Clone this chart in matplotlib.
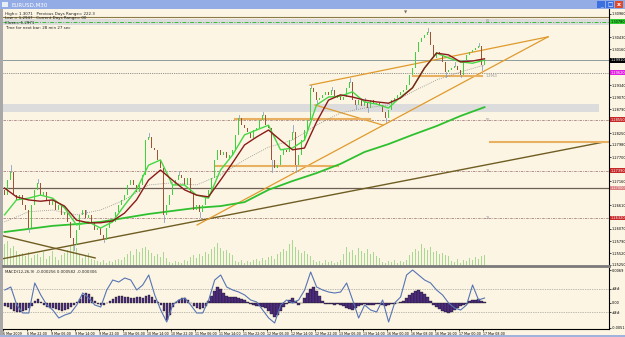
import numpy as np
import matplotlib
matplotlib.use("Agg")
import matplotlib.pyplot as plt
from matplotlib.patches import Rectangle
from matplotlib.transforms import blended_transform_factory

# EURUSD M30 screenshot - one candle here = one hour (two M30 bars)
closes = [
    1.2684, 1.2718, 1.2737, 1.2684, 1.2673, 1.2684, 1.2661, 1.2650, 1.2609, 1.2661,
    1.2696, 1.2712, 1.2684, 1.2691, 1.2673, 1.2661, 1.2673, 1.2650, 1.2661, 1.2639,
    1.2646, 1.2623, 1.2586, 1.2570, 1.2605, 1.2639, 1.2650, 1.2632, 1.2639, 1.2623,
    1.2605, 1.2609, 1.2593, 1.2582, 1.2609, 1.2627, 1.2623, 1.2646, 1.2661, 1.2673,
    1.2684, 1.2707, 1.2718, 1.2707, 1.2691, 1.2707, 1.2730, 1.2809, 1.2816, 1.2791,
    1.2787, 1.2764, 1.2746, 1.2639, 1.2661, 1.2684, 1.2707, 1.2718, 1.2730, 1.2723,
    1.2707, 1.2723, 1.2691, 1.2650, 1.2661, 1.2646, 1.2661, 1.2677, 1.2696, 1.2723,
    1.2764, 1.2787, 1.2775, 1.2782, 1.2768, 1.2775, 1.2787, 1.2821, 1.2859, 1.2843,
    1.2837, 1.2827, 1.2814, 1.2832, 1.2837, 1.2855, 1.2866, 1.2843, 1.2837, 1.2764,
    1.2746, 1.2752, 1.2775, 1.2787, 1.2782, 1.2809, 1.2827, 1.2752, 1.2775, 1.2809,
    1.2832, 1.2855, 1.2928, 1.2919, 1.2900, 1.2905, 1.2912, 1.2919, 1.2912, 1.2923,
    1.2905, 1.2912, 1.2900, 1.2907, 1.2928, 1.2941, 1.2900, 1.2889, 1.2900, 1.2887,
    1.2896, 1.2882, 1.2900, 1.2891, 1.2893, 1.2889, 1.2873, 1.2859, 1.2878, 1.2900,
    1.2905, 1.2912, 1.2919, 1.2923, 1.2934, 1.2957, 1.2973, 1.3010, 1.3032, 1.3041,
    1.3048, 1.3055, 1.3025, 1.2996, 1.3010, 1.3003, 1.2987, 1.2964, 1.2969, 1.2973,
    1.2978, 1.2969, 1.2957, 1.2991, 1.3003, 1.3010, 1.3014, 1.3019, 1.3023, 1.2980,
    1.2989,
]
first_open = 1.2696
wick_highs = {2: 1.2752, 11: 1.2721, 27: 1.2641, 48: 1.2825, 58: 1.2739, 78: 1.2866,
              86: 1.2873, 96: 1.2843, 102: 1.2934, 109: 1.2930, 115: 1.2950, 120: 1.2905,
              141: 1.3064, 150: 1.2987, 158: 1.3030}
wick_lows = {8: 1.2600, 23: 1.2559, 33: 1.2577, 53: 1.2623, 65: 1.2634, 89: 1.2737,
             97: 1.2737, 104: 1.2891, 117: 1.2880, 121: 1.2873, 127: 1.2850, 147: 1.2953,
             152: 1.2953, 159: 1.2969}

# tick volume, hundreds
volume = [
    22, 25, 18, 20, 15, 12, 13, 10, 14, 8, 11,
    12, 9, 14, 7, 10, 15, 9, 6, 11, 13, 16, 20,
    23, 18, 12, 8, 10, 13, 7, 6,
    5, 4, 6, 3, 5, 4, 6, 7, 6, 9,
    12, 15, 11, 17, 14, 18, 19, 16, 13,
    10, 12, 9, 14, 8, 4, 3, 5, 4, 3, 6, 5,
    9, 11, 8, 12, 10, 14, 12, 17, 19, 23, 18, 15, 16, 13, 11,
    5, 4, 6, 3, 5, 4, 6, 7, 5, 8, 6, 9, 10, 7,
    12, 14, 17, 15, 22, 26, 19, 16, 13, 15, 12, 10, 6,
    4, 5, 3, 6, 4, 5, 3, 4, 6,
    12, 19, 14, 16, 11, 18, 15, 13, 17, 12, 14, 10, 8,
    4, 3, 5, 4, 6, 3, 5, 4, 6,
    11, 14, 17, 15, 22, 18, 16, 19, 14, 15, 12, 13, 11, 10,
    5, 4, 7, 3, 6, 5, 8, 6, 9, 7, 10, 11,
]

# moving averages (fast green and red every 4 candles, dotted and slow every 8)
ma_fast = [1.2639, 1.2673, 1.2677, 1.2684, 1.2677, 1.2655, 1.2616, 1.2623, 1.2609, 1.2623,
           1.2661, 1.2696, 1.2752, 1.2764, 1.2707, 1.2707, 1.2684, 1.2677, 1.2741, 1.2775,
           1.2821, 1.2832, 1.2843, 1.2787, 1.2791, 1.2809, 1.2889, 1.2907, 1.2909, 1.2919,
           1.2896, 1.2891, 1.2882, 1.2907, 1.2928, 1.2973, 1.3007, 1.2996, 1.2987, 1.2984,
           1.2991]
ma_red = [1.2700, 1.2680, 1.2673, 1.2670, 1.2673, 1.2659, 1.2627, 1.2621, 1.2621, 1.2625,
          1.2643, 1.2673, 1.2718, 1.2741, 1.2718, 1.2696, 1.2684, 1.2680, 1.2718, 1.2757,
          1.2798, 1.2816, 1.2832, 1.2809, 1.2787, 1.2791, 1.2850, 1.2900, 1.2912, 1.2907,
          1.2900, 1.2896, 1.2893, 1.2905, 1.2928, 1.2973, 1.3007, 1.3003, 1.2987, 1.2989,
          1.2994]
ma_dotted = [1.2623, 1.2646, 1.2650, 1.2639, 1.2650, 1.2673, 1.2707, 1.2712, 1.2707, 1.2730,
             1.2764, 1.2793, 1.2809, 1.2843, 1.2871, 1.2882, 1.2889, 1.2919, 1.2946, 1.2964,
             1.2980]
ma_slow = [1.2600, 1.2607, 1.2614, 1.2618, 1.2623, 1.2632, 1.2641, 1.2648, 1.2655, 1.2659,
           1.2668, 1.2696, 1.2716, 1.2734, 1.2755, 1.2782, 1.2800, 1.2821, 1.2841, 1.2864,
           1.2884]

# MACD(12,26,9), in pips
macd_hist = [
    -6, -8, -12, -16, -18, -18, -16, -14, -10, -6, 4, 8,
    2, -4, -8, -10, -10, -12, -14, -16, -14, -12, -8,
    -4, 2, 8, 16, 20, 18, 12, 4, -2, -4, -4,
    0, 4, 8, 12, 14, 14, 12, 12, 10, 10, 12, 12, 10, 14, 16, 12,
    6, 2, -4, -16, -34, -24, -8, 2, 6, 10, 10, 6, 0,
    -6, -10, -12, -10, -6, 4, 14, 24, 32, 28, 20, 14,
    12, 12, 12, 10, 8, 6, 2, -2, -4, -6, -6, -8, -10, -16,
    -22, -28, -24, -16, -8, -2, 6, 10, 4, -4, 0,
    10, 20, 28, 32, 24, 14, 4, -2, -2, -2, -4, -2, -4,
    -6, -10, -12, -14, -10, -6, -4, -2, -4, -4, -4, -2, -2,
    -4, -6, -4, -2, -2, 0, 2, 4, 10, 16, 20, 24, 26, 22, 18, 12, 4,
    -4, -8, -12, -16, -18, -20, -18, -14, -10, -6, -4, -2, 4, 6, 6, 8, 4, 2,
]
macd_line = [  # every 2 candles
    26, 32, -4, -20, -20, 40, 16, -4, -14, -30, -24, -20, -4, 20, 10, -4, -8, 26, 46, 42,
    50, 46, 26, 36, 56, 16, -14, -38, -4, 6, 10, -4, -20, -20, 6, 46, 56, 32, 26, 22,
    16, 6, 2, -14, -30, -40, -4, 6, 0, 6, 26, 62, 32, 26, 22, 20, 22, 40, 6, -30,
    -4, -14, -18, 6, -38, 0, 12, 56, 66, 56, 46, 40, 26, 16, 0, -10, -14, -4, 36, 6,
    10,
]
macd_levels = [28, -18]

time_labels = ["6 Mar 2009", "6 Mar 22:00", "9 Mar 06:00", "9 Mar 14:00", "9 Mar 22:00",
               "10 Mar 06:00", "10 Mar 14:00", "10 Mar 22:00", "11 Mar 06:00", "11 Mar 14:00",
               "11 Mar 22:00", "12 Mar 06:00", "12 Mar 14:00", "12 Mar 22:00", "13 Mar 06:00",
               "13 Mar 14:00", "16 Mar 00:00", "16 Mar 08:00", "16 Mar 16:00", "17 Mar 00:00",
               "17 Mar 08:00"]
price_ticks = [1.25250, 1.25520, 1.25790, 1.26070, 1.26340, 1.26610, 1.26890, 1.27160,
               1.27430, 1.27700, 1.27980, 1.28250, 1.28520, 1.28790, 1.29070, 1.29340,
               1.29610, 1.29880, 1.30160, 1.30430, 1.30700, 1.30960]

# horizontal objects
level_top = 1.3089
level_green = 1.3078
band_top = (1.3071, 1.3084)
level_close = 1.2991
level_dotted = 1.2962
band_mid = (1.2873, 1.2891)
fib_levels = [1.2855, 1.2739, 1.2632]
fib_names = ["50", "38", "23"]
level_solid = 1.2700

# trend lines: (bar0, price0, bar1, price1)
brown_lines = [(-1.5, 1.2538, 200.0, 1.2805), (-1.5, 1.2593, 30.2, 1.2541)]
orange_lines = [(64.2, 1.2616, 181.2, 1.3044), (101.8, 1.2934, 181.2, 1.3044),
                (103.5, 1.2889, 126.2, 1.2843)]
orange_flat = [(136.2, 159.2, 1.2955), (76.8, 121.8, 1.2858), (70.2, 111.2, 1.2750),
               (161.8, 201.5, 1.2805)]

# right-hand price tags
tags = [(level_green, "1.30780", "#2fcf2f", "black"),
        (level_close, "1.29910", "black", "white"),
        (level_dotted, "1.29620", "#e020e0", "white"),
        (1.2855, "1.28550", "#c62828", "white"),
        (1.2739, "1.27390", "#c62828", "white"),
        (level_solid, "1.27000", "#d98080", "white"),
        (1.2632, "1.26320", "#c62828", "white")]

W, H = 625, 337
cream = "#fcf5e3"
fig = plt.figure(figsize=(W / 100, H / 100), dpi=100)
fig.patch.set_facecolor(cream)


def frect(x, y, w, h, color, z=0):
    fig.add_artist(Rectangle((x / W, 1 - (y + h) / H), w / W, h / H,
                             transform=fig.transFigure, color=color, zorder=z, lw=0))


# window frame
frect(0, 0, W, 9, "#93ace6")
frect(0, 9, 3, H - 9, "#a8a8a8")
frect(0, H - 2, W, 2, "#9fb3dd")
frect(2, 2, 6, 5, "#e8eef8", 2)
fig.text(11 / W, 1 - 4.8 / H, "EURUSD,M30", fontsize=4.0, color="white", va="center")
for bx, col in [(597, "#3c6fe0"), (606, "#3c6fe0"), (615, "#e04a2a")]:
    frect(bx, 1, 8, 7, col, 2)
fig.text(601 / W, 1 - 5 / H, "_", fontsize=4, color="white", ha="center", va="center")
fig.text(610 / W, 1 - 4.5 / H, "□", fontsize=4, color="white", ha="center", va="center")
fig.text(619 / W, 1 - 4.5 / H, "x", fontsize=4.5, color="white", ha="center", va="center",
         weight="bold")

# axes
ax = fig.add_axes([3 / W, 1 - 266 / H, 606 / W, 257 / H])
am = fig.add_axes([3 / W, 1 - 329 / H, 606 / W, 61 / H])
ylo, yhi = 1.25227, 1.31073
n = len(closes)
xlo, xhi = -0.5, 201.5
for a in (ax, am):
    a.set_facecolor(cream)
    a.set_xlim(xlo, xhi)
    for s in ("left", "top"):
        a.spines[s].set_visible(False)
    a.spines["right"].set_linewidth(0.8)
    a.yaxis.tick_right()
    a.tick_params(axis="y", length=1.2, width=0.5, labelsize=2.5, pad=0.5)
ax.set_ylim(ylo, yhi)
ax.spines["bottom"].set_color("#7a7a7a")
ax.spines["bottom"].set_linewidth(2)
ax.set_xticks([])
# the coloured tags hide the scale labels underneath them
tag_prices = [t[0] for t in tags]
shown_ticks = [t for t in price_ticks if min(abs(t - p) for p in tag_prices) > 0.0012]
ax.set_yticks(shown_ticks)
ax.set_yticklabels([f"{t:.5f}" for t in shown_ticks])

# horizontal objects
ax.axhspan(*band_top, color="#dcdcdc", lw=0, zorder=0)
ax.axhspan(band_mid[0], band_mid[1], xmax=0.983, color="#dcdcdc", lw=0, zorder=0)
ax.axhline(level_top, color="#8a7a4a", lw=0.8, zorder=1)
ax.axhline(level_green, color="#3cb83c", lw=0.7, ls=(0, (4, 1.5, 1, 1.5)), zorder=1)
ax.axhline(level_close, color="#8e9c9c", lw=0.7, zorder=1)
ax.axhline(level_dotted, color="#707070", lw=0.6, ls=(0, (1, 1.2)), zorder=1)
for lv, nm in zip(fib_levels, fib_names):
    ax.axhline(lv, color="#a88080", lw=0.6, ls=(0, (3, 1.2, 1, 1.2)), zorder=1)
    ax.text(160.5, lv, nm, fontsize=2.4, color="#909090", va="center")
ax.text(160.5, level_green + 0.0003, "61", fontsize=2.4, color="#909090", va="center")
ax.axhline(level_solid, color="#6e5e55", lw=0.9, zorder=1)

# volume at the bottom of the price panel
px_price = (yhi - ylo) / 257
idx = np.arange(n)
ax.bar(idx, np.array(volume) * px_price, bottom=ylo, width=0.5, color="#a9d892",
       lw=0, zorder=1)

# trend lines
for x0, p0, x1, p1 in brown_lines:
    ax.plot([x0, x1], [p0, p1], color="#6f5d22", lw=1.0, zorder=2)
for x0, p0, x1, p1 in orange_lines:
    ax.plot([x0, x1], [p0, p1], color="#e09a2c", lw=0.9, zorder=2)
for x0, x1, p in orange_flat:
    ax.plot([x0, x1], [p, p], color="#e8b060", lw=1.5, zorder=2)
ax.text(160.3, 1.2955, "1.2963", fontsize=2.4, color="#909090", va="center")

# moving averages
ax.plot(np.arange(0, n, 8), ma_slow, color="#2fc02f", lw=1.3, zorder=3)
ax.plot(np.arange(0, n, 8), ma_dotted, color="#8c8c8c", lw=0.6, ls=(0, (1, 1.5)), zorder=3)

# candles
c = np.array(closes)
o = np.r_[first_open, c[:-1]]
up = c >= o
body = np.maximum(np.abs(c - o), 0.00012)
base = np.minimum(o, c)
for i, hi in wick_highs.items():
    ax.plot([i, i], [max(o[i], c[i]), hi], color="#8aa2c0", lw=0.6, zorder=4)
for i, lo in wick_lows.items():
    ax.plot([i, i], [lo, min(o[i], c[i])], color="#8aa2c0", lw=0.6, zorder=4)
ax.bar(idx[up], body[up], bottom=base[up], width=0.5, color="#3ed03e", lw=0, zorder=5)
ax.bar(idx[~up], body[~up], bottom=base[~up], width=0.5, color="#9b5535", lw=0, zorder=5)

ax.plot(np.arange(0, n, 4), ma_fast, color="#44d844", lw=1.0, zorder=6)
ax.plot(np.arange(0, n, 4), ma_red, color="#8b1a1a", lw=1.0, zorder=6)

# price tags on the right scale
tr = blended_transform_factory(ax.transAxes, ax.transData)
for p, txt, bg, fg in tags:
    ax.text(1.002, p, txt, transform=tr, fontsize=2.5, color=fg, va="center", ha="left",
            clip_on=False, zorder=10,
            bbox=dict(facecolor=bg, edgecolor="none", pad=0.3))

# info text top-left
info = ["High= 1.3071   Previous Days Range= 222.3",
        "Low = 1.2947   Current Days Range= 00",
        "Close= 1.2971",
        "Time for next bar: 28 min 27 sec"]
for k, line in enumerate(info):
    fig.text(5 / W, 1 - (13.5 + 4.8 * k) / H, line, fontsize=2.9, color="#202020",
             va="center")
fig.text(406 / W, 1 - 13 / H, "▼", fontsize=3, color="#707070", ha="center", va="center")

# MACD panel
mh = np.array(macd_hist) * 1e-4
am.set_ylim(-0.0052, 0.0070)
am.bar(idx, mh, width=0.8, color="#4d2c80", edgecolor="#151515", lw=0.25, zorder=2)
am.plot(np.arange(0, n, 2), np.array(macd_line) * 1e-4, color="#5774b4", lw=0.8, zorder=3)
for lv in macd_levels:
    am.axhline(lv * 1e-4, color="#808080", lw=0.5, ls=(0, (1, 1.5)), zorder=1)
am.set_yticks([0.0066, macd_levels[0] * 1e-4, 0.0, macd_levels[1] * 1e-4, -0.0049])
am.set_yticklabels(["0.0069", "###", "0.00", "###", "-0.0051"])
am.text(0.004, 0.96, "MACD(12,26,9) -0.000256 0.000582 -0.000306", transform=am.transAxes,
        fontsize=2.8, color="#202020", va="top")
am.set_xticks(np.arange(len(time_labels)) * 8 - 0.6)
am.set_xticklabels(time_labels, ha="left")
am.tick_params(axis="x", length=1.5, width=0.5, labelsize=2.3, pad=0.8)
am.spines["bottom"].set_linewidth(0.8)

fig.savefig("out.png", dpi=100, facecolor=fig.get_facecolor())
